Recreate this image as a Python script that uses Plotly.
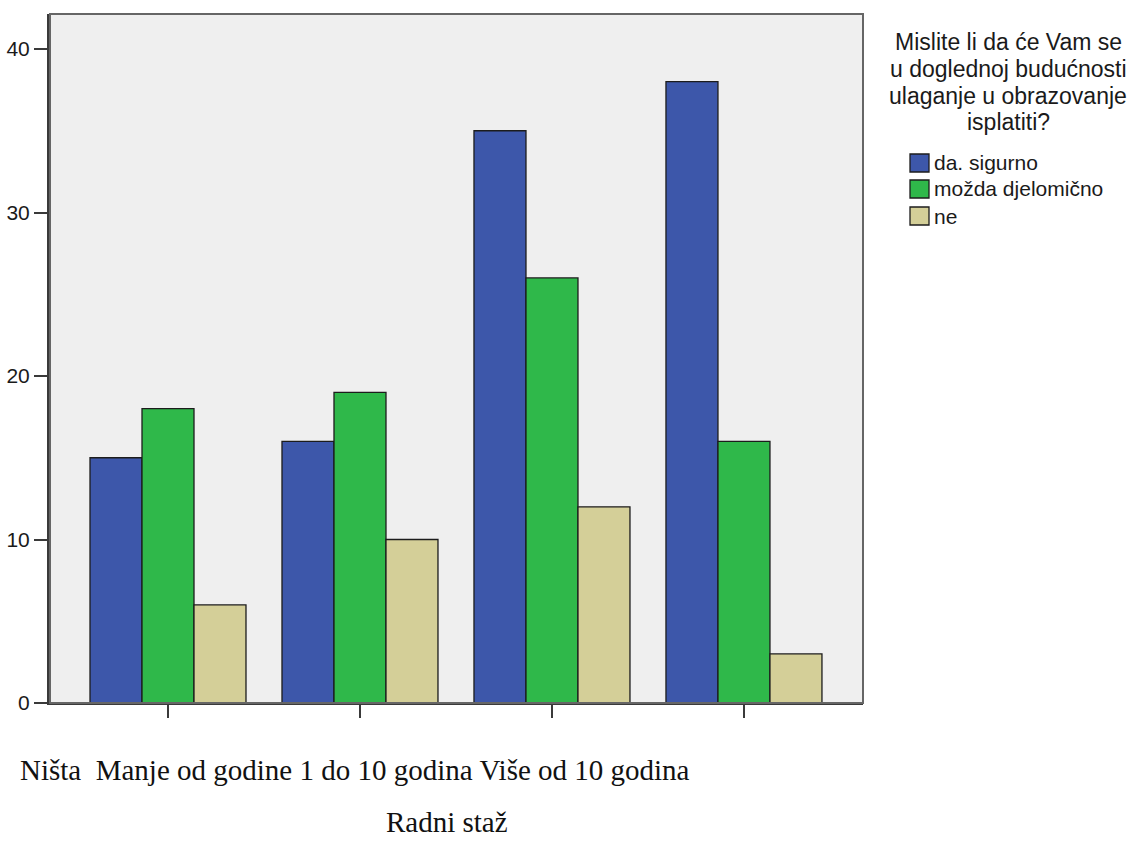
import plotly.graph_objects as go

# Radni staž categories and answer counts
categories = ["Ništa", "Manje od godine", "1 do 10 godina", "Više od 10 godina"]
series_names = ["da. sigurno", "možda djelomično", "ne"]
da_sigurno = [15, 16, 35, 38]
mozda_djelomicno = [18, 19, 26, 16]
ne = [6, 10, 12, 3]
y_ticks = [0, 10, 20, 30, 40]

legend_title = ["Mislite li da će Vam se", "u doglednoj budućnosti",
                "ulaganje u obrazovanje", "isplatiti?"]
x_axis_text = "Ništa \u00a0Manje od godine 1 do 10 godina Više od 10 godina"
x_axis_title = "Radni staž"

colors = ["#3d57aa", "#2fb84a", "#d4cf98"]
values = [da_sigurno, mozda_djelomicno, ne]

W, H = 1144, 853
L, R, T, B = 50, 281, 14, 150
plot_w = W - L - R
plot_h = H - T - B

def px_x(x):
    return (x - L) / plot_w

def px_y(y):
    return (H - B - y) / plot_h

SANS = "Liberation Sans, Arial, sans-serif"
SERIF = "Liberation Serif, Times New Roman, serif"

fig = go.Figure()
for name, vals, col in zip(series_names, values, colors):
    fig.add_trace(go.Bar(
        x=list(range(len(categories))), y=vals, name=name,
        marker=dict(color=col, line=dict(color="#1c1c1c", width=1.3)),
        showlegend=False,
    ))

fig.update_layout(
    width=W, height=H,
    margin=dict(l=L, r=R, t=T, b=B, pad=0, autoexpand=False),
    paper_bgcolor="white", plot_bgcolor="#efefef",
    barmode="group", bargap=0.1875, bargroupgap=0,
    font=dict(family=SANS, size=20, color="#1a1a1a"),
)
fig.update_xaxes(
    range=[-0.6146, 3.620], tickvals=list(range(len(categories))),
    showticklabels=False, ticks="outside", ticklen=13, tickwidth=2,
    tickcolor="#3a3a3a", showgrid=False, zeroline=False, automargin=False,
    showline=True, linecolor="#3a3a3a", linewidth=2,
)
fig.update_yaxes(
    range=[0, plot_h / 16.35], tickvals=y_ticks,
    ticks="outside", ticklen=13, tickwidth=2, tickcolor="#3a3a3a",
    tickfont=dict(family=SANS, size=21, color="#1a1a1a"),
    showgrid=False, zeroline=False, automargin=False,
    showline=True, linecolor="#3a3a3a", linewidth=3,
)

# frame around the plotting area
fig.add_shape(type="rect", xref="paper", yref="paper", x0=0, x1=1, y0=0, y1=1,
              line=dict(color="#666666", width=2), layer="above")

# legend title, one centred line at a time (tight line spacing)
title_y = [42, 69, 96, 122]
for line, yc in zip(legend_title, title_y):
    fig.add_annotation(
        xref="paper", yref="paper", x=px_x(1008), y=px_y(yc),
        text=line, showarrow=False, xanchor="center", yanchor="middle",
        font=dict(family=SANS, size=23, color="#1a1a1a"),
    )

# legend entries
item_y = [163, 189, 216]
for name, col, yc in zip(series_names, colors, item_y):
    fig.add_shape(type="rect", xref="paper", yref="paper",
                  x0=px_x(910), x1=px_x(929), y0=px_y(yc - 9), y1=px_y(yc + 9),
                  fillcolor=col, line=dict(color="#1c1c1c", width=1.3))
    fig.add_annotation(xref="paper", yref="paper", x=px_x(932), y=px_y(yc),
                       text=name, showarrow=False, xanchor="left", yanchor="middle",
                       font=dict(family=SANS, size=21, color="#1a1a1a"))

# category text and axis title below the chart
fig.add_annotation(xref="paper", yref="paper", x=px_x(18), y=px_y(770),
                   text=x_axis_text, showarrow=False, xanchor="left", yanchor="middle",
                   font=dict(family=SERIF, size=29, color="#111111"))
fig.add_annotation(xref="paper", yref="paper", x=px_x(384), y=px_y(822),
                   text=x_axis_title, showarrow=False, xanchor="left", yanchor="middle",
                   font=dict(family=SERIF, size=29, color="#111111"))

fig.write_html("out.html")
